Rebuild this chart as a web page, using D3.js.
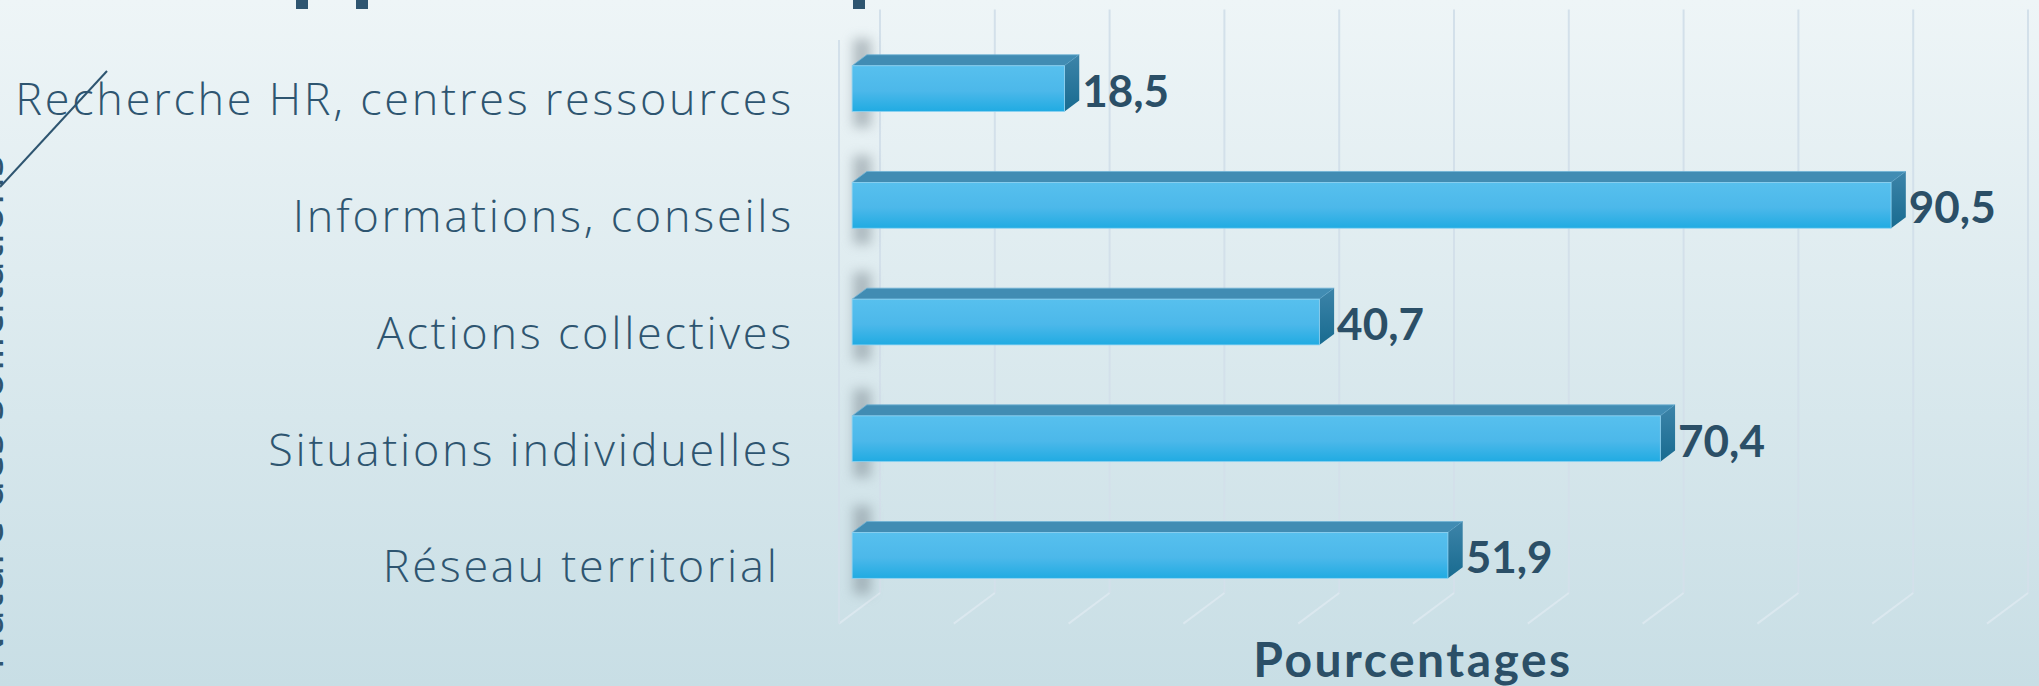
<!DOCTYPE html>
<html>
<head>
<meta charset="utf-8">
<script src="https://cdn.jsdelivr.net/npm/d3@7"></script>
<style>
  html, body { margin: 0; padding: 0; overflow: hidden; }
  svg { display: block; }
</style>
</head>
<body>
<div id="chart"></div>
<script>
// data
const categories = [
    "Recherche HR, centres ressources",
    "Informations, conseils",
    "Actions collectives",
    "Situations individuelles",
    "Réseau territorial "
];
const values = [18.5, 90.5, 40.7, 70.4, 51.9];
const valueLabels = ["18,5", "90,5", "40,7", "70,4", "51,9"];
const axisTitle = "Pourcentages";
const sideTitle = "Nature des sollicitations";

const W = 2039, H = 686;
const textColor = "#2e5570";
const labelFont = "'Open Sans', Lato, sans-serif";
const boldFont = "Lato, 'Open Sans', sans-serif";

// back wall of the 3D plot and depth vector (back -> front)
const wall = {left: 880, right: 2028, top: 9.5, bottom: 593};
const depth = {dx: -41, dy: 30.6};
const barDepth = [0.32, 0.68];

const svg = d3.select("#chart").append("svg")
    .attr("width", W)
    .attr("height", H);

const defs = svg.append("defs");

const bg = defs.append("linearGradient").attr("id", "bg")
    .attr("x1", 0).attr("y1", 0).attr("x2", 0).attr("y2", 1);
bg.append("stop").attr("offset", "0%").attr("stop-color", "#eef5f7");
bg.append("stop").attr("offset", "100%").attr("stop-color", "#c8dee5");

const front = defs.append("linearGradient").attr("id", "barFront")
    .attr("x1", 0).attr("y1", 0).attr("x2", 0).attr("y2", 1);
front.append("stop").attr("offset", "0%").attr("stop-color", "#57c0ee");
front.append("stop").attr("offset", "55%").attr("stop-color", "#4cb8ea");
front.append("stop").attr("offset", "100%").attr("stop-color", "#20abe2");

const side = defs.append("linearGradient").attr("id", "barSide")
    .attr("x1", 0).attr("y1", 0).attr("x2", 0).attr("y2", 1);
side.append("stop").attr("offset", "0%").attr("stop-color", "#3d84a9");
side.append("stop").attr("offset", "100%").attr("stop-color", "#186b90");

defs.append("filter").attr("id", "blur")
    .attr("x", "-100%").attr("y", "-50%").attr("width", "300%").attr("height", "200%")
    .append("feGaussianBlur").attr("stdDeviation", 6);

svg.append("rect")
    .attr("width", W)
    .attr("height", H)
    .attr("fill", "url(#bg)");

const x = d3.scaleLinear()
    .domain([0, 100])
    .range([wall.left, wall.right]);

const y = d3.scaleBand()
    .domain(categories)
    .range([wall.top, wall.bottom])
    .paddingInner(0.608)
    .paddingOuter(0.304);

// project a point at value v, back-wall y, depth d (0 back, 1 front)
const px = (v, d) => x(v) + d * depth.dx;
const py = (yy, d) => yy + d * depth.dy;

// gridlines: back wall verticals + floor diagonals
const grid = svg.append("g")
    .attr("stroke", "#d3e0ea")
    .attr("stroke-width", 2)
    .attr("fill", "none");

grid.selectAll("line.wallGrid")
    .data(x.ticks(10))
    .join("line")
    .attr("class", "wallGrid")
    .attr("x1", d => x(d))
    .attr("x2", d => x(d))
    .attr("y1", wall.top)
    .attr("y2", wall.bottom);

grid.selectAll("line.floorGrid")
    .data(x.ticks(10))
    .join("line")
    .attr("class", "floorGrid")
    .attr("stroke", "#dbe8ef")
    .attr("x1", d => x(d))
    .attr("y1", wall.bottom)
    .attr("x2", d => px(d, 1))
    .attr("y2", py(wall.bottom, 1));

// front edge of the left wall
grid.append("line")
    .attr("x1", px(0, 1))
    .attr("x2", px(0, 1))
    .attr("y1", py(wall.top, 1))
    .attr("y2", py(wall.bottom, 1));

const data = categories.map((c, i) => ({cat: c, value: values[i], label: valueLabels[i]}));

// shadows on the left wall
svg.append("g").selectAll("rect")
    .data(data)
    .join("rect")
    .attr("x", px(0, barDepth[1]) + 1)
    .attr("y", d => py(y(d.cat), barDepth[0]) - 16)
    .attr("width", 18)
    .attr("height", d => y.bandwidth() + (barDepth[1] - barDepth[0]) * depth.dy + 32)
    .attr("fill", "#7a878f")
    .attr("opacity", 0.5)
    .attr("filter", "url(#blur)");

const bars = svg.append("g").selectAll("g")
    .data(data)
    .join("g");

// top face
bars.append("path")
    .attr("d", d => {
        const t = y(d.cat);
        return d3.line()([
            [px(0, barDepth[1]), py(t, barDepth[1])],
            [px(d.value, barDepth[1]), py(t, barDepth[1])],
            [px(d.value, barDepth[0]), py(t, barDepth[0])],
            [px(0, barDepth[0]), py(t, barDepth[0])]
        ]) + "Z";
    })
    .attr("fill", "#418cb3")
    .attr("stroke", "#6fb3d6")
    .attr("stroke-width", 0.8);

// right side face
bars.append("path")
    .attr("d", d => {
        const t = y(d.cat), b = t + y.bandwidth();
        return d3.line()([
            [px(d.value, barDepth[1]), py(t, barDepth[1])],
            [px(d.value, barDepth[0]), py(t, barDepth[0])],
            [px(d.value, barDepth[0]), py(b, barDepth[0])],
            [px(d.value, barDepth[1]), py(b, barDepth[1])]
        ]) + "Z";
    })
    .attr("fill", "url(#barSide)");

// front face
bars.append("rect")
    .attr("x", px(0, barDepth[1]))
    .attr("y", d => py(y(d.cat), barDepth[1]))
    .attr("width", d => px(d.value, barDepth[1]) - px(0, barDepth[1]))
    .attr("height", y.bandwidth())
    .attr("fill", "url(#barFront)")
    .attr("stroke", "#8fd3f2")
    .attr("stroke-width", 0.8);

// value labels
bars.append("text")
    .attr("x", d => px(d.value, barDepth[0]) + 3)
    .attr("y", d => py(y(d.cat) + y.bandwidth(), barDepth[1]) - 5)
    .attr("fill", "#2b4f67")
    .attr("font-family", boldFont)
    .attr("font-weight", 700)
    .attr("font-size", 44)
    .text(d => d.label);

// category labels, right aligned
const catLabels = svg.append("g").selectAll("text")
    .data(categories)
    .join("text")
    .attr("x", 794)
    .attr("y", d => py(y(d) + y.bandwidth() / 2, 1) + 17)
    .attr("text-anchor", "end")
    .attr("fill", textColor)
    .attr("font-family", labelFont)
    .attr("font-weight", 300)
    .attr("font-size", 45)
    .style("white-space", "pre")
    .text(d => d);

// fit spacing so the longest label spans like the original
const longest = catLabels.filter((d, i) => i === 0).node();
const natural = longest.getComputedTextLength();
const spacing = (776 - natural) / (categories[0].length - 1);
catLabels.attr("letter-spacing", spacing);

// axis title
svg.append("text")
    .attr("x", (px(0, 1) + px(100, 1)) / 2)
    .attr("y", 677)
    .attr("text-anchor", "middle")
    .attr("fill", "#2b4f67")
    .attr("font-family", boldFont)
    .attr("font-weight", 700)
    .attr("font-size", 48)
    .attr("letter-spacing", 2.5)
    .text(axisTitle);

// vertical title at the left edge, mostly beyond the frame
svg.append("text")
    .attr("transform", "translate(2.5,155) rotate(-90)")
    .attr("text-anchor", "end")
    .attr("fill", textColor)
    .attr("font-family", labelFont)
    .attr("font-size", 46)
    .text(sideTitle);

// leader line
svg.append("line")
    .attr("x1", 0).attr("y1", 187)
    .attr("x2", 107).attr("y2", 71)
    .attr("stroke", textColor)
    .attr("stroke-width", 2);

// descenders of the main title sitting above the frame
svg.append("g").selectAll("rect")
    .data([296, 356, 853])
    .join("rect")
    .attr("x", d => d)
    .attr("y", 0)
    .attr("width", 12)
    .attr("height", 9)
    .attr("fill", textColor);
</script>
</body>
</html>
